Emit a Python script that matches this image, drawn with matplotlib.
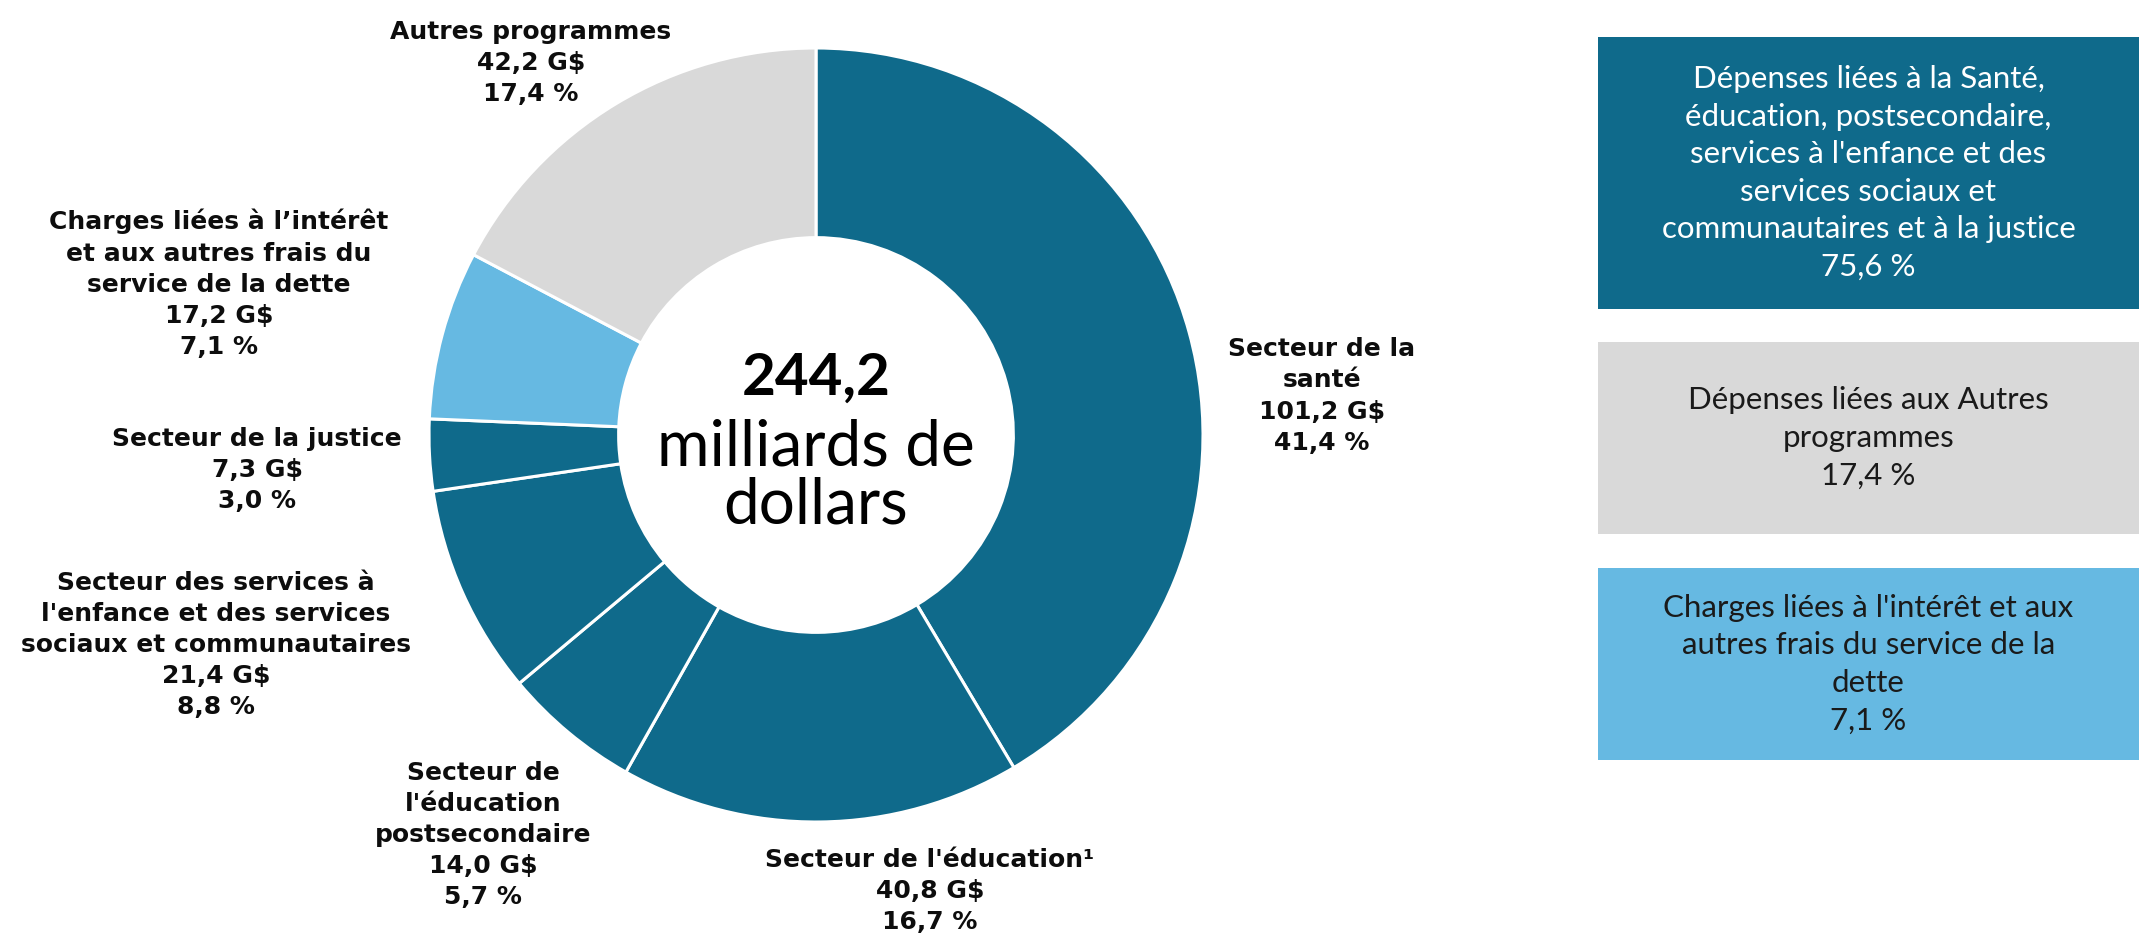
import matplotlib.pyplot as plt
from matplotlib.patches import Rectangle

# --- données ---
secteurs = ["Secteur de la\nsanté", "Secteur de l'éducation¹", "Secteur de\nl'éducation\npostsecondaire",
            "Secteur des services à\nl'enfance et des services\nsociaux et communautaires",
            "Secteur de la justice", "Charges liées à l’intérêt\net aux autres frais du\nservice de la dette",
            "Autres programmes"]
montants = [101.2, 40.8, 14.0, 21.4, 7.3, 17.2, 42.2]
pourcents = [41.4, 16.7, 5.7, 8.8, 3.0, 7.1, 17.4]
total = 244.2

boites = ["Dépenses liées à la Santé,\néducation, postsecondaire,\nservices à l'enfance et des\nservices sociaux et\ncommunautaires et à la justice",
          "Dépenses liées aux Autres\nprogrammes",
          "Charges liées à l'intérêt et aux\nautres frais du service de la\ndette"]
boites_pct = [75.6, 17.4, 7.1]

# --- style ---
BLEU = "#0f6a8b"
CIEL = "#66b9e2"
GRIS = "#d9d9d9"
couleurs = [BLEU, BLEU, BLEU, BLEU, BLEU, CIEL, GRIS]
boites_fond = [BLEU, GRIS, CIEL]
boites_txt = ["white", "#1a1a1a", "#1a1a1a"]

W, H = 2146, 940
fig = plt.figure(figsize=(W / 100, H / 100), dpi=100)
ax = fig.add_axes([0, 0, 1, 1])

cx, cy, R = 816, H - 435, 387
ax.pie(montants, colors=couleurs, startangle=90, counterclock=False,
       center=(cx, cy), radius=R,
       wedgeprops=dict(width=R * 0.49, edgecolor="white", linewidth=2.2))
ax.set_xlim(0, W)
ax.set_ylim(0, H)
ax.set_aspect("equal")
ax.axis("off")

# texte central
ax.text(cx, H - 378, f"{total:.1f}".replace(".", ","), ha="center", va="center",
        fontsize=42, fontweight="bold", family="Lato")
ax.text(cx, H - 476, "milliards de\ndollars", ha="center", va="center",
        fontsize=46, family="Lato", linespacing=1.0)

# étiquettes (positions en pixels, centre du bloc)
pos_etiq = [(1322, 396), (930, 891), (483, 835), (216, 645), (257, 470), (219, 284), (531, 63)]
for nom, m, p, (x, y) in zip(secteurs, montants, pourcents, pos_etiq):
    txt = f"{nom}\n{m:.1f} G$\n{p:.1f} %".replace(".", ",")
    ax.text(x, H - y, txt, ha="center", va="center", fontsize=18,
            fontweight="bold", family="DejaVu Sans", linespacing=1.38, color="#0d0d0d")

# boîtes de synthèse
rects = [(1598, 37, 541, 272), (1598, 342, 541, 192), (1598, 568, 541, 192)]
for (x, y, w, h), t, p, fc, tc in zip(rects, boites, boites_pct, boites_fond, boites_txt):
    ax.add_patch(Rectangle((x, H - y - h), w, h, facecolor=fc, edgecolor="none"))
    ax.text(x + w / 2, H - y - h / 2, t + "\n" + f"{p:.1f} %".replace(".", ","),
            ha="center", va="center", fontsize=22.5, family="Lato", color=tc, linespacing=1.42)

fig.savefig("out.png", dpi=100)
